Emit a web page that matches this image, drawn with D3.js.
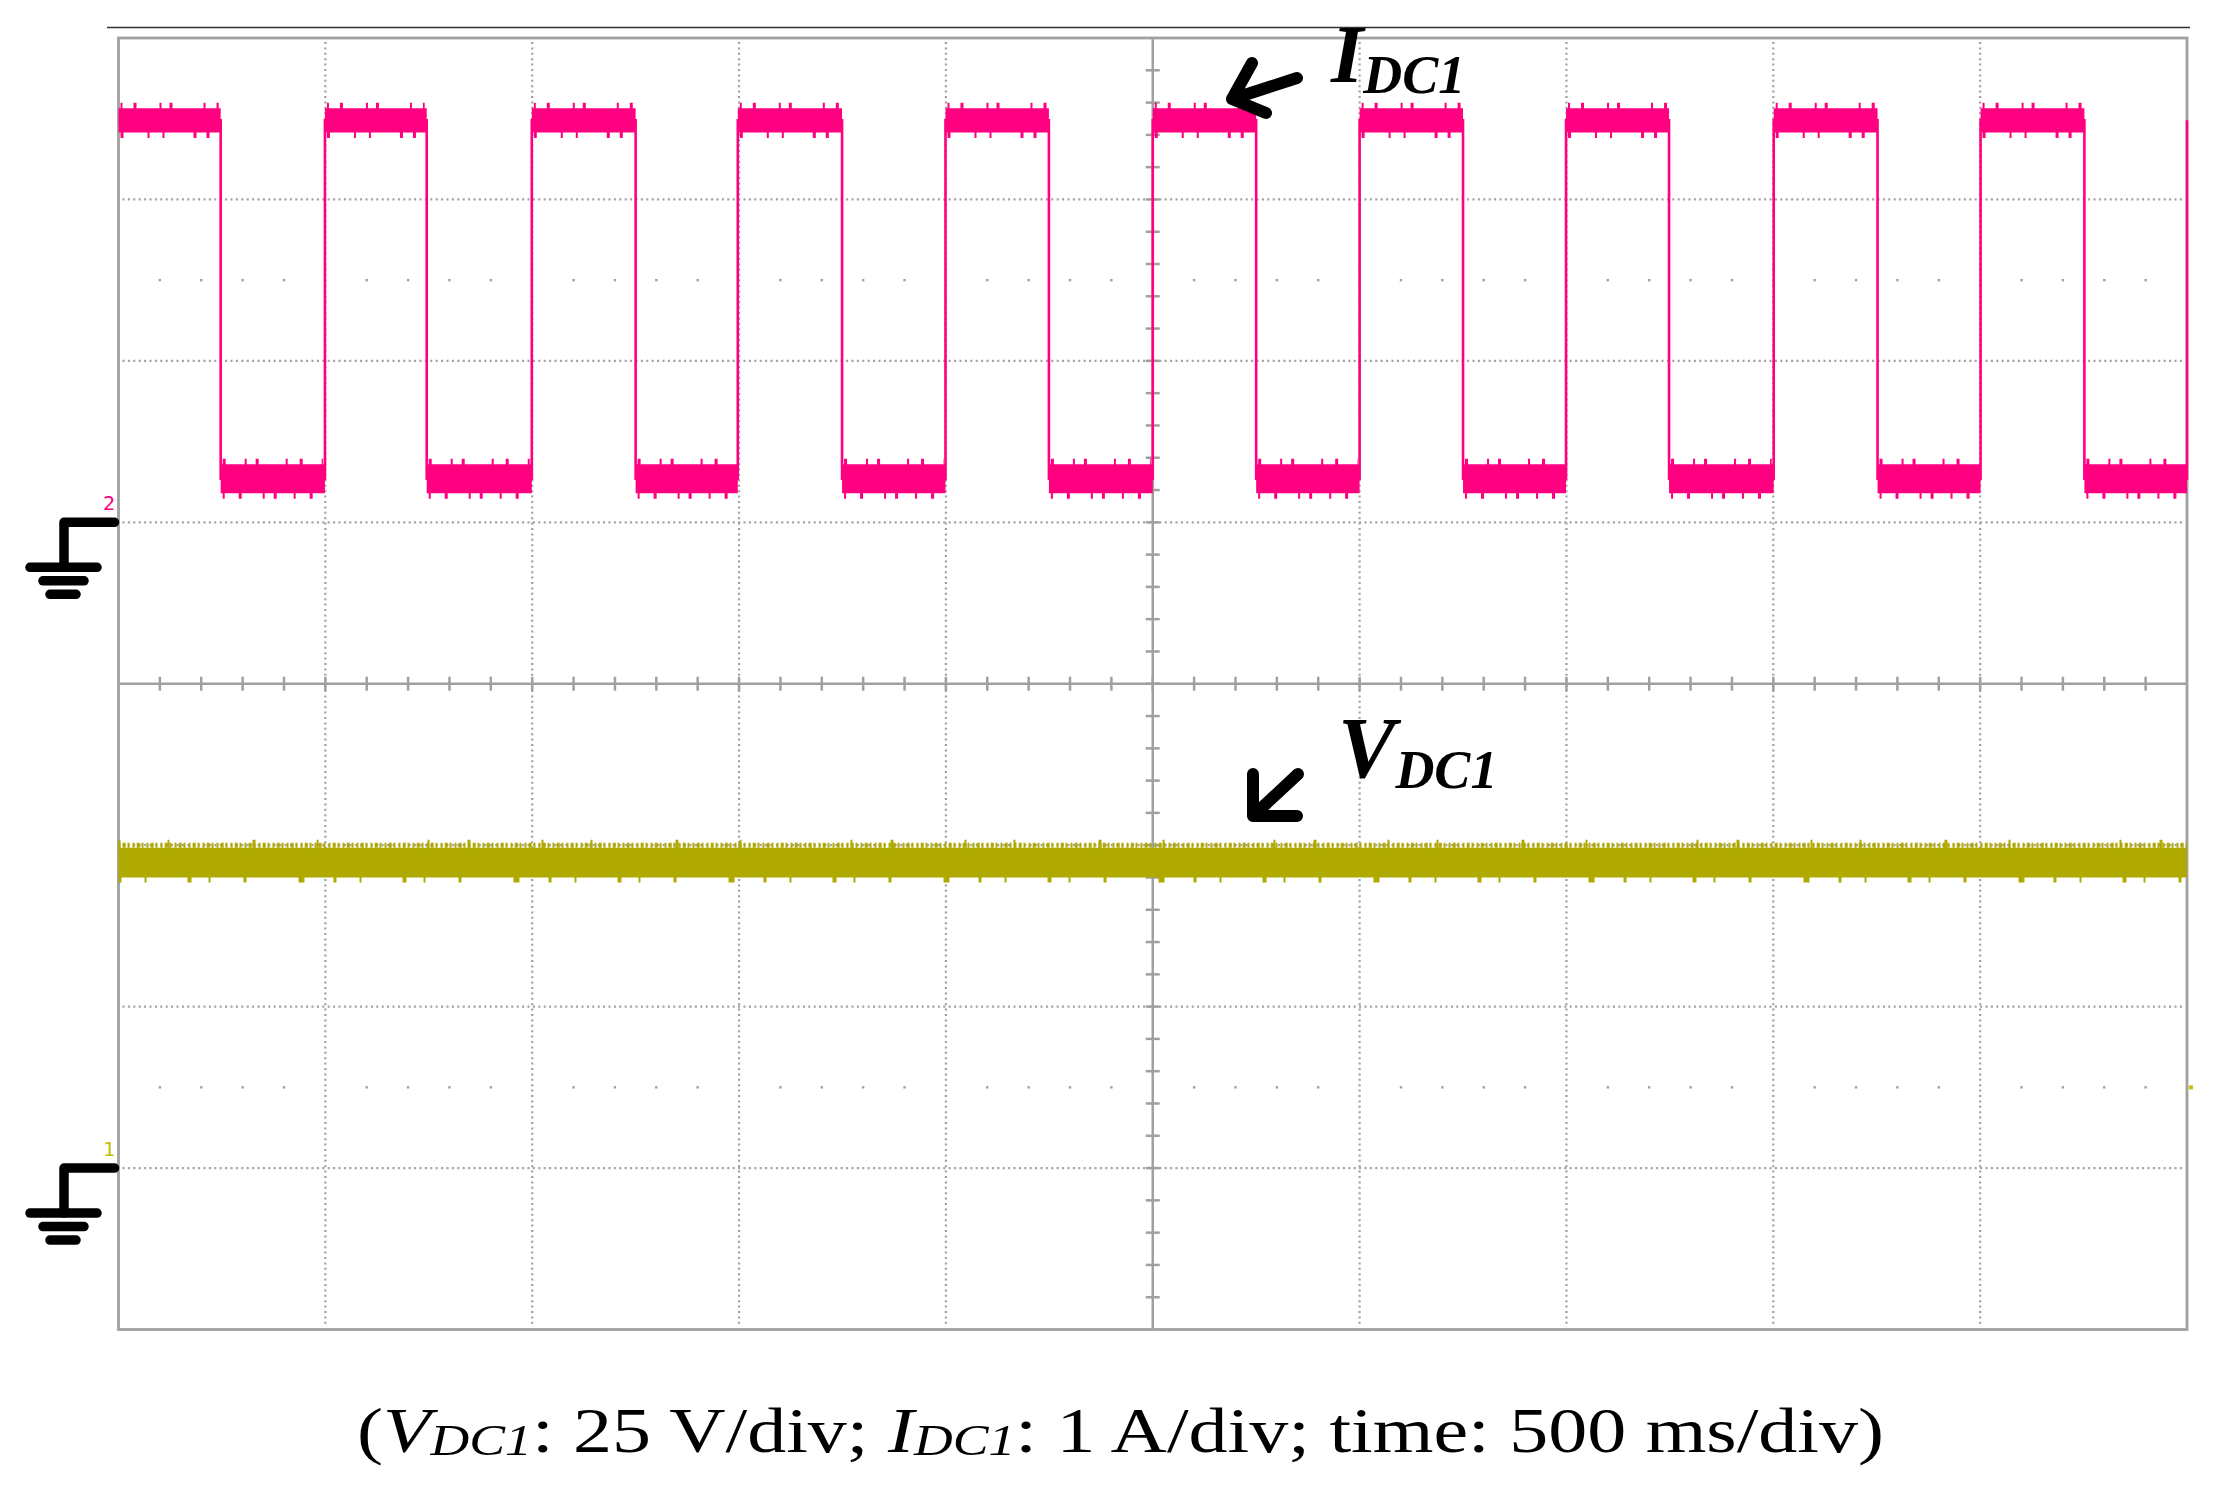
<!DOCTYPE html>
<html lang="en">
<head>
<meta charset="UTF-8">
<title>VDC1 / IDC1 scope capture</title>
<script src="https://d3js.org/d3.v7.min.js"></script>
<style>
  body { margin: 0; background: #fff; }
  svg { display: block; }
  .serif { font-family: "Liberation Serif", "Times New Roman", serif; }
</style>
</head>
<body>
<div class="viz"></div>
<script>
// time base 500 ms/div, 10 div across
const timeDomainMs = [0, 5000];

// ch2: IDC1, 1 A/div. time of each edge (ms) and the level that follows it (A)
const iEdgeTimes = [0, 247, 499, 745, 999, 1250, 1497, 1749, 1999, 2249, 2500,
                    2750, 3000, 3250, 3499, 3748, 4001, 4252, 4501, 4752, 5000];
const iLevels = [2.49, 0.27, 2.49, 0.27, 2.49, 0.27, 2.49, 0.27, 2.49, 0.27, 2.49,
                 0.27, 2.49, 0.27, 2.49, 0.27, 2.49, 0.27, 2.49, 0.27, 2.49];
const iNoiseHalf = [0.075, 0.09];   // envelope half width, high / low (A)

// ch1: VDC1, 25 V/div
const vTimes = [0, 5000];
const vLevels = [47.3, 47.3];
const vNoiseHalf = 2.3;             // V

const captionParts = [
  { t: "(" }, { t: "V", it: true }, { t: "DC1", sub: true }, { t: ": 25 V/div; " },
  { t: "I", it: true }, { t: "DC1", sub: true }, { t: ": 1 A/div; time: 500 ms/div)" }
];

const width = 2213, height = 1490;
const pink = "#ff0080", olive = "#afa900", gridCol = "#a0a0a0";

const svg = d3.select(".viz").append("svg")
    .attr("width", width)
    .attr("height", height);

const xDiv = d3.scaleLinear().domain([0, 10]).range([118.5, 2187]);
const yDiv = d3.scaleLinear().domain([0, 8]).range([38, 1329.5]);
const x = d3.scaleLinear().domain(timeDomainMs).range(xDiv.range());
// ch2 ground on division 3, ch1 ground on division 7
const yI = d3.scaleLinear().domain([3, -5]).range(yDiv.range());
const yV = d3.scaleLinear().domain([175, -25]).range(yDiv.range());

// thin line above the screen
svg.append("line")
    .attr("x1", 107).attr("x2", 2190)
    .attr("y1", 27.5).attr("y2", 27.5)
    .attr("stroke", "#333").attr("stroke-width", 1.5);

// graticule
const grid = svg.append("g");
grid.selectAll(".vgrid")
    .data(d3.range(1, 10).filter(d => d !== 5))
    .enter().append("line")
    .attr("x1", d => xDiv(d)).attr("x2", d => xDiv(d))
    .attr("y1", yDiv(0) + 4).attr("y2", yDiv(8) - 3)
    .attr("stroke", gridCol).attr("stroke-width", 2.2)
    .attr("stroke-dasharray", "2,3.4");

grid.selectAll(".hgrid")
    .data(d3.range(1, 8).filter(d => d !== 4))
    .enter().append("line")
    .attr("x1", xDiv(0) + 4).attr("x2", xDiv(10) - 3)
    .attr("y1", d => yDiv(d)).attr("y2", d => yDiv(d))
    .attr("stroke", gridCol).attr("stroke-width", 2.2)
    .attr("stroke-dasharray", "2,3.4");

// sparse dot rows at +-2.5 div
const dotRows = [1.5, 6.5];
dotRows.forEach(r => {
    grid.selectAll(null)
        .data(d3.range(1, 50).filter(i => i % 5 !== 0))
        .enter().append("rect")
        .attr("x", i => xDiv(i / 5) - 1.2)
        .attr("y", yDiv(r) - 1.2)
        .attr("width", 2.4).attr("height", 2.4)
        .attr("fill", gridCol);
});

// centre axes with minor ticks
grid.append("line")
    .attr("x1", xDiv(0)).attr("x2", xDiv(10))
    .attr("y1", yDiv(4)).attr("y2", yDiv(4))
    .attr("stroke", gridCol).attr("stroke-width", 2.5);
grid.append("line")
    .attr("x1", xDiv(5)).attr("x2", xDiv(5))
    .attr("y1", yDiv(0)).attr("y2", yDiv(8))
    .attr("stroke", gridCol).attr("stroke-width", 2.5);

grid.selectAll(".xtick")
    .data(d3.range(1, 50))
    .enter().append("line")
    .attr("x1", i => xDiv(i / 5)).attr("x2", i => xDiv(i / 5))
    .attr("y1", yDiv(4) - 7).attr("y2", yDiv(4) + 7)
    .attr("stroke", gridCol).attr("stroke-width", 2.5);

grid.selectAll(".ytick")
    .data(d3.range(1, 40))
    .enter().append("line")
    .attr("x1", xDiv(5) - 7).attr("x2", xDiv(5) + 7)
    .attr("y1", i => yDiv(i / 5)).attr("y2", i => yDiv(i / 5))
    .attr("stroke", gridCol).attr("stroke-width", 2.5);

// frame
svg.append("rect")
    .attr("x", xDiv(0)).attr("y", yDiv(0))
    .attr("width", xDiv(10) - xDiv(0))
    .attr("height", yDiv(8) - yDiv(0))
    .attr("fill", "none")
    .attr("stroke", gridCol).attr("stroke-width", 2.8);

// ---- IDC1 trace ----
const iPts = iEdgeTimes.map((t, k) => ({ t: t, l: iLevels[k] }));
const iSegs = iPts.slice(0, -1).map((p, k) => ({
    t0: p.t, t1: iPts[k + 1].t, l: p.l,
    hw: p.l > 1 ? iNoiseHalf[0] : iNoiseHalf[1]
}));

const gI = svg.append("g");
gI.append("path")
    .datum(iPts)
    .attr("d", d3.line().x(d => x(d.t)).y(d => yI(d.l)).curve(d3.curveStepAfter))
    .attr("fill", "none")
    .attr("stroke", pink).attr("stroke-width", 2.6);

const segArea = d3.area()
    .x(d => x(d.t))
    .y0(d => yI(d.l - d.hw))
    .y1(d => yI(d.l + d.hw));

gI.selectAll(".band")
    .data(iSegs)
    .enter().append("path")
    .attr("d", s => segArea([{ t: s.t0, l: s.l, hw: s.hw }, { t: s.t1, l: s.l, hw: s.hw }]))
    .attr("fill", pink);

// ragged glitch edges of the envelope
const edgeLine = (s, side) => d3.line()([[x(s.t0) + 2, yI(s.l + side * s.hw)], [x(s.t1) - 2, yI(s.l + side * s.hw)]]);
gI.selectAll(".gtop")
    .data(iSegs)
    .enter().append("path")
    .attr("d", s => edgeLine(s, 1))
    .attr("stroke", pink).attr("stroke-width", 11).attr("fill", "none")
    .attr("stroke-dasharray", (s, k) => k % 2 ? "3,19,2,9,3,27,2,12" : "2,11,3,23,2,8,3,31");
gI.selectAll(".gbot")
    .data(iSegs)
    .enter().append("path")
    .attr("d", s => edgeLine(s, -1))
    .attr("stroke", pink).attr("stroke-width", 11).attr("fill", "none")
    .attr("stroke-dasharray", (s, k) => k % 2 ? "2,14,3,21,2,9,3,17" : "3,24,2,13,2,29,3,10");

// ---- VDC1 trace ----
const vPts = vTimes.map((t, k) => ({ t: t, l: vLevels[k], hw: vNoiseHalf }));
const gV = svg.append("g");
gV.append("path")
    .datum(vPts)
    .attr("d", d3.area().x(d => x(d.t)).y0(d => yV(d.l - d.hw)).y1(d => yV(d.l + d.hw)))
    .attr("fill", olive);
const vEdge = (side, off) => d3.line()(vPts.map(d => [x(d.t), yV(d.l + side * d.hw) - off]));
gV.append("path")
    .attr("d", vEdge(1, 2.5))
    .attr("stroke", olive).attr("stroke-width", 5).attr("fill", "none")
    .attr("stroke-dasharray", "2,2.2,3,1.8,2,3");
gV.append("path")
    .attr("d", vEdge(1, 0))
    .attr("stroke", olive).attr("stroke-width", 16).attr("fill", "none")
    .attr("stroke-dasharray", "2,47,2,83,3,61,2,109,2,38,3,71");
gV.append("path")
    .attr("d", vEdge(-1, 0))
    .attr("stroke", olive).attr("stroke-width", 10).attr("fill", "none")
    .attr("stroke-dasharray", "3,23,2,41,4,17,2,33,3,52,6,29");

// ---- ground markers ----
function drawGround(y, label, color) {
    const g = svg.append("g")
        .attr("stroke", "#000").attr("stroke-width", 9.5)
        .attr("stroke-linecap", "round").attr("stroke-linejoin", "round")
        .attr("fill", "none");
    g.append("path").attr("d", `M${xDiv(0) - 4},${y} H64 V${y + 45}`);
    g.append("line").attr("x1", 30).attr("x2", 97).attr("y1", y + 45).attr("y2", y + 45);
    g.append("line").attr("x1", 43).attr("x2", 84).attr("y1", y + 58.5).attr("y2", y + 58.5);
    g.append("line").attr("x1", 50).attr("x2", 76).attr("y1", y + 72).attr("y2", y + 72);
    svg.append("text")
        .attr("x", 109).attr("y", y - 12)
        .attr("text-anchor", "middle")
        .attr("font-family", "DejaVu Sans Mono")
        .attr("font-size", 20)
        .attr("fill", color)
        .text(label);
}
drawGround(yI(0), "2", pink);
drawGround(yV(0), "1", "#c8c000");

// small ch1 marker right of the screen
svg.append("rect")
    .attr("x", xDiv(10) + 2).attr("y", yDiv(6.5) - 2)
    .attr("width", 4).attr("height", 4)
    .attr("fill", "#c8c000");

// ---- annotations ----
const arrowStyle = sel => sel
    .attr("fill", "none").attr("stroke", "#000").attr("stroke-width", 12)
    .attr("stroke-linecap", "round").attr("stroke-linejoin", "round");

svg.append("path").call(arrowStyle)
    .attr("d", "M1297,78 L1232,99 M1252,63 L1232,99 L1266,113");
svg.append("path").call(arrowStyle)
    .attr("d", "M1253,774 L1253,816 L1297,816 M1253,816 L1298,774");

function label(xPos, yPos, main, sub, size, subSize, dy) {
    const t = svg.append("text")
        .attr("class", "serif")
        .attr("x", xPos).attr("y", yPos)
        .attr("font-style", "italic").attr("font-weight", "bold")
        .attr("font-size", size)
        .attr("fill", "#000");
    t.append("tspan").text(main);
    t.append("tspan").attr("font-size", subSize).attr("dy", dy).text(sub);
}
label(1331, 82, "I", "DC1", 83, 54, 11);
label(1338, 777, "V", "DC1", 86, 54, 11);

// caption
const cap = svg.append("text")
    .attr("class", "serif")
    .attr("x", 357).attr("y", 1452)
    .attr("font-size", 64)
    .attr("fill", "#000")
    .attr("textLength", 1527)
    .attr("lengthAdjust", "spacingAndGlyphs");
captionParts.forEach(p => {
    const ts = cap.append("tspan").text(p.t);
    if (p.it) ts.attr("font-style", "italic");
    if (p.sub) ts.attr("font-style", "italic").attr("font-size", 44).attr("dy", 3);
    else if (p.t.startsWith(":")) ts.attr("dy", -3);
});
</script>
</body>
</html>
